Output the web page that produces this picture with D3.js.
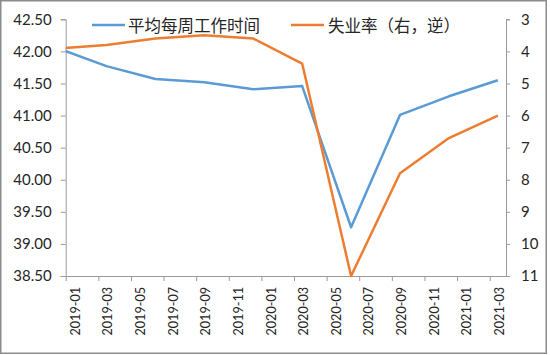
<!DOCTYPE html>
<html>
<head>
<meta charset="utf-8">
<script src="https://cdn.jsdelivr.net/npm/d3@7"></script>
<style>
  html, body { margin: 0; padding: 0; background: #fff; }
  svg { display: block; }
</style>
</head>
<body>
<svg id="chart" width="550" height="355"></svg>
<script>
// ---- data (quarter-end months) ----
const dates = ["2018-12","2019-03","2019-06","2019-09","2019-12","2020-03","2020-06","2020-09","2020-12","2021-03"];
const hours = [42.05, 41.77, 41.57, 41.52, 41.41, 41.46, 39.26, 41.01, 41.30, 41.55];
const unemployment = [3.91, 3.80, 3.60, 3.50, 3.60, 4.38, 11.0, 7.80, 6.70, 6.00];
const xTickLabels = ["2019-01","2019-03","2019-05","2019-07","2019-09","2019-11","2020-01","2020-03","2020-05","2020-07","2020-09","2020-11","2021-01","2021-03"];
const leftTicks = [38.5, 39, 39.5, 40, 40.5, 41, 41.5, 42, 42.5];
const rightTicks = [3, 4, 5, 6, 7, 8, 9, 10, 11];
const seriesNames = ["平均每周工作时间", "失业率（右，逆）"];
const colors = ["#5B9BD5", "#ED7D31"];

// ---- layout ----
const L = 65.7, R = 506, T = 19.3, B = 276;
const svg = d3.select("#chart");

// month index from 2019-01
const mIdx = s => { const [y, m] = s.split("-").map(Number); return (y - 2019) * 12 + (m - 1); };

const x = d3.scaleLinear().domain([0, 27]).range([L, R]);
const yL = d3.scaleLinear().domain([38.5, 42.5]).range([B, T]);
const yR = d3.scaleLinear().domain([3, 11]).range([T, B]); // inverted

// outer border
svg.append("rect").attr("x", 0.75).attr("y", 0.75).attr("width", 545.5).attr("height", 352.5)
  .attr("fill", "#fff").attr("stroke", "#8c8c8c").attr("stroke-width", 1.5);

const axisColor = "#9a9a9a";
const textColor = "#262626";
const numFont = "Lato, 'Open Sans', sans-serif";

// left axis
const gL = svg.append("g").attr("transform", `translate(${L},0)`)
  .call(d3.axisLeft(yL).tickValues(leftTicks).tickFormat(d3.format(".2f")).tickSize(5).tickPadding(9));
// right axis
const gR = svg.append("g").attr("transform", `translate(${R},0)`)
  .call(d3.axisRight(yR).tickValues(rightTicks).tickFormat(d3.format("d")).tickSize(4).tickPadding(11));
[gL, gR].forEach(g => {
  g.select(".domain").attr("stroke", axisColor).attr("stroke-width", 1);
  g.selectAll(".tick line").attr("stroke", axisColor);
  g.selectAll(".tick text").attr("fill", textColor).style("font-family", numFont).style("font-size", "15px");
});

// bottom axis: ticks at odd months, labels centred in the month slot
const tickIdx = xTickLabels.map(mIdx);
const gB = svg.append("g").attr("transform", `translate(0,${B})`)
  .call(d3.axisBottom(x).tickValues(tickIdx).tickFormat("").tickSize(5).tickSizeOuter(0));
gB.select(".domain").attr("stroke", axisColor);
gB.selectAll(".tick line").attr("stroke", axisColor);
gB.selectAll(".lbl").data(xTickLabels).enter().append("text")
  .attr("class", "lbl")
  .attr("transform", d => `translate(${x(mIdx(d) + 0.5) + 1.5},${11}) rotate(-90)`)
  .attr("text-anchor", "end")
  .attr("dominant-baseline", "central")
  .attr("fill", textColor)
  .style("font-family", numFont).style("font-size", "12.6px")
  .text(d => d);

// clip to plot area
svg.append("clipPath").attr("id", "plotclip").append("rect")
  .attr("x", L).attr("y", T - 2).attr("width", R - L).attr("height", B - T + 4);

const plot = svg.append("g").attr("clip-path", "url(#plotclip)");
const lineL = d3.line().x((d, i) => x(mIdx(dates[i]) + 0.5)).y(d => yL(d));
const lineR = d3.line().x((d, i) => x(mIdx(dates[i]) + 0.5)).y(d => yR(d));

plot.append("path").datum(hours).attr("d", lineL)
  .attr("fill", "none").attr("stroke", colors[0]).attr("stroke-width", 2.5).attr("stroke-linejoin", "round");
plot.append("path").datum(unemployment).attr("d", lineR)
  .attr("fill", "none").attr("stroke", colors[1]).attr("stroke-width", 2.5).attr("stroke-linejoin", "round");

// legend
const legend = [
  { name: seriesNames[0], color: colors[0], x0: 92, x1: 125, tx: 128 },
  { name: seriesNames[1], color: colors[1], x0: 291, x1: 324, tx: 328 }
];
const lg = svg.append("g");
legend.forEach(d => {
  lg.append("line").attr("x1", d.x0).attr("x2", d.x1).attr("y1", 25).attr("y2", 25)
    .attr("stroke", d.color).attr("stroke-width", 2.5);
  lg.append("text").attr("x", d.tx).attr("y", 25).attr("dominant-baseline", "central")
    .attr("fill", textColor)
    .style("font-family", "'Noto Sans CJK SC', sans-serif").style("font-size", "16.5px")
    .text(d.name);
});
</script>
</body>
</html>
